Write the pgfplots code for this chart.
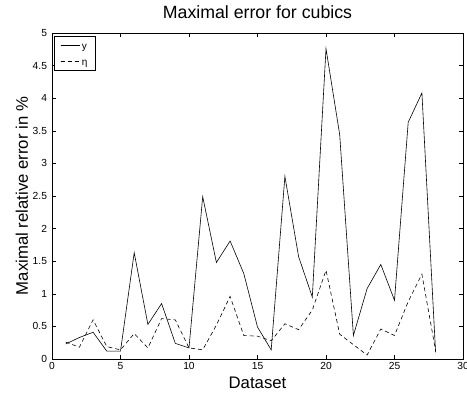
\documentclass[border=0pt]{standalone}
\usepackage{pgfplots}
\pgfplotsset{compat=1.18}
\usepackage{fontspec}
\setmainfont{Liberation Sans}

% maximal relative error per dataset (in %)
\pgfplotstableread{
n   y     eta
1   0.23  0.26
2   0.33  0.18
3   0.41  0.60
4   0.12  0.19
5   0.12  0.14
6   1.63  0.39
7   0.53  0.17
8   0.85  0.62
9   0.24  0.60
10  0.17  0.17
11  2.49  0.14
12  1.48  0.52
13  1.81  0.96
14  1.31  0.36
15  0.49  0.35
16  0.14  0.28
17  2.80  0.54
18  1.57  0.45
19  0.95  0.75
20  4.76  1.36
21  3.44  0.38
22  0.36  0.22
23  1.08  0.06
24  1.45  0.46
25  0.90  0.36
26  3.63  0.88
27  4.08  1.30
28  0.10  0.13
}\errtable

\begin{document}
\begin{tikzpicture}
\begin{axis}[
  scale only axis,
  width=411bp, height=326bp,
  xmin=0, xmax=30, ymin=0, ymax=5,
  xtick={0,5,...,30},
  ytick={0,0.5,...,5},
  /pgf/number format/assume math mode=true,
  tick label style={font=\fontsize{10.3}{11}\selectfont},
  yticklabel style={xshift=-1.5bp, /pgf/number format/.cd, fixed, precision=1},
  tick align=inside,
  major tick length=4bp,
  axis line style={line width=0.6pt},
  every tick/.style={black,line width=0.5pt},
  title={Maximal error for cubics},
  title style={font=\fontsize{17.8}{19}\selectfont, at={(0.5,1)}, anchor=base, yshift=9bp},
  xlabel={Dataset},
  ylabel={Maximal relative error in \%},
  label style={font=\fontsize{16.8}{18}\selectfont},
  xlabel style={at={(0.5,0)}, anchor=base, yshift=-30bp},
  ylabel style={at={(0,0.5)}, anchor=base, yshift=24bp},
  legend style={at={(rel axis cs:0,1)}, anchor=north west,
    xshift=2bp, yshift=-3bp, font=\fontsize{10}{11}\selectfont,
    inner xsep=6bp, inner ysep=3.5bp, row sep=5bp,
    nodes={inner sep=1.5bp, text height=8bp, text depth=0bp},
    draw=black, line width=0.6pt,
    legend cell align=left},
  legend image code/.code={%
    \path (0bp,0bp) -- (19.5bp,0bp);
    \draw[#1,line width=0.6pt] (0bp,0bp) -- (17bp,0bp);},
]
\coordinate (bl) at (rel axis cs:0,0);
\coordinate (tr) at (rel axis cs:1,1);
\addplot[black, line width=0.6pt] table[x=n, y=y] {\errtable};
\addlegendentry{y}
\addplot[black, line width=0.6pt, dash pattern=on 4bp off 3bp] table[x=n, y=eta] {\errtable};
\addlegendentry{η}
\end{axis}
\pgfresetboundingbox
\useasboundingbox ([xshift=-52bp,yshift=-37bp]bl) rectangle ([xshift=4bp,yshift=33bp]tr);
\end{tikzpicture}
\end{document}
